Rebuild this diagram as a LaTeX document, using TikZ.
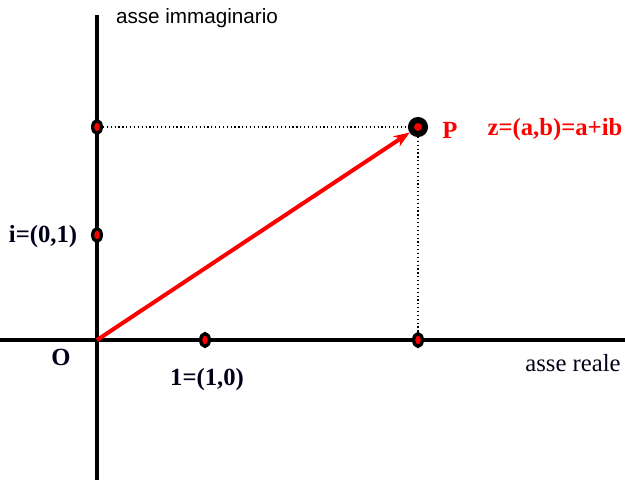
\documentclass[tikz,border=0pt]{standalone}
\usepackage{fontspec}
\setmainfont{Liberation Serif}
\newfontfamily\assefont{Liberation Sans}
\usetikzlibrary{arrows.meta,shapes.geometric}

\begin{document}
\begin{tikzpicture}[x=0.75pt, y=-0.75pt, >={Stealth[length=12pt,width=9pt]},
  asse/.style={line width=3pt, draw=black},
  puntini/.style={dotted, line width=0.9pt},
  punto/.style={ellipse, draw=black, fill=red, line width=2.5pt, inner sep=0pt,
    minimum width=6.5pt, minimum height=9.5pt},
  etichetta/.style={font=\fontsize{18.5}{20}\selectfont\bfseries, text=black!90!blue}]
  \useasboundingbox (0,0) rectangle (625,480);
  % estremi degli assi
  \coordinate (O) at (97,340);
  \coordinate (xs) at (0,340);
  \coordinate (xd) at (625,340);
  \coordinate (ya) at (97,15);
  \coordinate (yb) at (97,480);
  \draw[asse] (xs) -- (xd); % asse reale
  \draw[asse] (ya) -- (yb); % asse immaginario
  % punti
  \node[punto] (uno) at (205,340) {};
  \node[punto] (i) at (97,235) {};
  \node[punto] (b) at (97,127) {};
  \node[punto] (a) at (418,340) {};
  \node[circle, draw=black, fill=red, line width=4.5pt, inner sep=0pt,
    minimum size=10.5pt] (P) at (418,127) {};
  \draw[puntini] (b) -- (P);
  \draw[puntini] (P) -- (a);
  \draw[->, red, line width=3pt] (O) -- (P);
  % testi
  \node[etichetta, text=red] (nP) at (450,130) {P};
  \node[etichetta, text=red] (nz) at (555,130) {z=(a,b)=a+ib};
  \node[etichetta] (ni) at (43,237) {i=(0,1)};
  \node[etichetta] (nO) at (61,357) {O};
  \node[etichetta] (nuno) at (207,380) {1=(1,0)};
  \node[font=\fontsize{18.5}{20}\selectfont, text=black!90!blue] (nx) at (573,363) {asse reale};
  \node[font=\assefont\fontsize{15.5}{18}\selectfont] (ny) at (197,18) {asse immaginario};
\end{tikzpicture}
\end{document}
